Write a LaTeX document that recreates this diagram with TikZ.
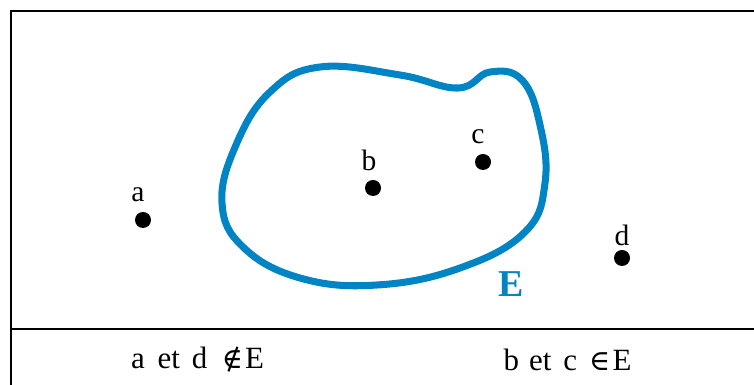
\documentclass[tikz,border=0pt]{standalone}
\usepackage{fontspec}
\setmainfont{Liberation Serif}
\newfontfamily\symbfont[Scale=0.92]{DejaVu Serif}
\usepackage{tikz}
\usetikzlibrary{positioning, calc}
\definecolor{setblue}{RGB}{0,132,196}

\begin{document}
\begin{tikzpicture}[>=stealth, scale=1,
    point/.style={circle, fill=black, inner sep=0pt, minimum size=0.4cm},
    lbl/.style={font=\fontsize{21}{24}\selectfont, inner sep=0pt},
    legend/.style={font=\fontsize{22}{24}\selectfont, inner sep=0pt}]

  \useasboundingbox (0,0) rectangle (18.85,9.625);

  % --- Cadre ---
  \draw[line width=1.4pt] (0.275,0) -- (0.275,9.35) -- (18.85,9.35);
  \draw[line width=1.2pt] (0.275,1.4) -- (18.85,1.4);

  % --- Ensemble E ---
  \draw[setblue, line width=5pt, smooth cycle, tension=0.7]
    plot coordinates {(5.55,4.55) (5.9,6.0) (6.75,7.325) (8.0,7.95)
      (10.0,7.75) (11.45,7.425) (12.25,7.825) (13.05,7.625) (13.5,6.5)
      (13.625,5.05) (13.125,3.825) (11.5,2.925) (9.425,2.5) (7.5,2.675)
      (6.075,3.45)};
  \node[setblue, font=\fontsize{27}{30}\selectfont\bfseries, inner sep=0pt] (nomE) at (12.775,2.525) {E};

  % --- Points ---
  \node[point] (a) at (3.575,4.125) {};
  \node[point] (b) at (9.325,4.925) {};
  \node[point] (c) at (12.075,5.575) {};
  \node[point] (d) at (15.55,3.175) {};
  \node[lbl] (la) at (3.45,4.75) {a};
  \node[lbl] (lb) at (9.225,5.625) {b};
  \node[lbl] (lc) at (11.95,6.2) {c};
  \node[lbl] (ld) at (15.55,3.75) {d};

  % --- Legende ---
  \node[legend] (nonE) at (4.94,0.625)
    {a\hspace{0.32cm}et\hspace{0.3cm}d\hspace{0.36cm}{\symbfont ∉}\hspace{0.06cm}E};
  \node[legend] (dansE) at (14.19,0.625)
    {b\hspace{0.25cm}et\hspace{0.3cm}c\hspace{0.3cm}{\symbfont ∈}\hspace{0.06cm}E};

\end{tikzpicture}
\end{document}
